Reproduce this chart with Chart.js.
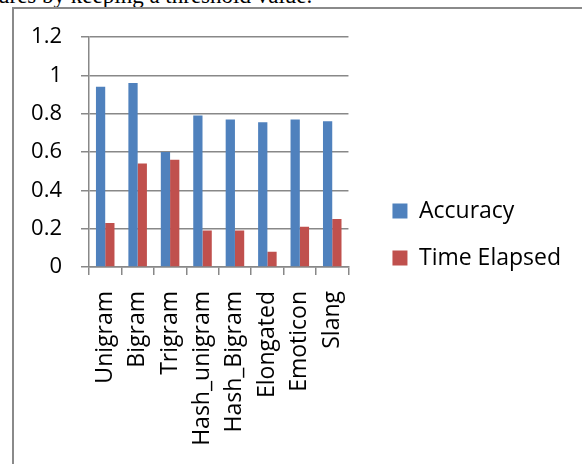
<!DOCTYPE html>
<html>
<head>
<meta charset="utf-8">
<script src="https://cdn.jsdelivr.net/npm/chart.js@4/dist/chart.umd.min.js"></script>
<style>
  html, body { margin: 0; padding: 0; background: #fff; width: 582px; height: 464px; overflow: hidden; }
  #frame { position: absolute; left: 12px; top: 7px; width: 620px; height: 520px; border: 2px solid #8a8a8a; box-sizing: border-box; }
  #caption { position: absolute; left: -2px; top: -16px; font-family: "Liberation Serif", serif; font-size: 23px; line-height: 23px; color: #000; white-space: nowrap; }
  #wrap { position: absolute; left: 0; top: 0; width: 582px; height: 464px; }
</style>
</head>
<body>
<div id="caption">ures by keeping a threshold value.</div>
<div id="frame"></div>
<div id="wrap"><canvas id="c" width="582" height="464"></canvas></div>
<script>
const categories = ['Unigram', 'Bigram', 'Trigram', 'Hash_unigram', 'Hash_Bigram', 'Elongated', 'Emoticon', 'Slang'];
const accuracy = [0.94, 0.96, 0.60, 0.79, 0.77, 0.755, 0.77, 0.76];
const timeElapsed = [0.23, 0.54, 0.56, 0.19, 0.19, 0.08, 0.21, 0.25];
const seriesNames = ['Accuracy', 'Time Elapsed'];
const yTickLabels = ['0', '0.2', '0.4', '0.6', '0.8', '1', '1.2'];

const FONT = '"Open Sans", sans-serif';
const GRID = '#888888';

new Chart(document.getElementById('c'), {
  type: 'bar',
  data: {
    labels: categories,
    datasets: [
      { label: seriesNames[0], data: accuracy, backgroundColor: '#4F81BD', borderWidth: 0 },
      { label: seriesNames[1], data: timeElapsed, backgroundColor: '#C0504D', borderWidth: 0 }
    ]
  },
  options: {
    responsive: false,
    animation: false,
    devicePixelRatio: 1,
    layout: { padding: { top: 5, bottom: 0, left: 0, right: 11 } },
    datasets: { bar: { categoryPercentage: 2 / 3.5, barPercentage: 1 } },
    plugins: {
      title: {
        display: true, text: '', fullSize: false, position: 'top',
        font: { size: 10, lineHeight: 1 }, padding: { top: 22, bottom: 0 }
      },
      tooltip: { enabled: false },
      legend: {
        position: 'right',
        align: 'center',
        maxWidth: 300,
        labels: {
          font: { family: FONT, size: 23 },
          color: '#000',
          boxWidth: 15,
          boxHeight: 15,
          padding: 24
        }
      }
    },
    scales: {
      x: {
        afterFit: s => { s.height = 197; },
        grid: { offset: true, drawOnChartArea: false, drawTicks: true, tickLength: 8, color: GRID, lineWidth: 1.5 },
        border: { color: GRID, width: 1.5 },
        ticks: {
          autoSkip: false, minRotation: 90, maxRotation: 90, padding: 16,
          font: { family: FONT, size: 23 }, color: '#000'
        }
      },
      y: {
        min: 0, max: 1.2,
        afterFit: s => { s.width = 89; },
        grid: { color: GRID, lineWidth: 1.5, tickLength: 8, drawTicks: true },
        border: { color: GRID, width: 1.5 },
        ticks: {
          stepSize: 0.2, padding: 19,
          font: { family: FONT, size: 22 }, color: '#000',
          callback: (v, i) => yTickLabels[i]
        }
      },
      y2: {
        position: 'right',
        display: true,
        afterFit: s => { s.width = 20; },
        grid: { display: false, drawTicks: false },
        border: { display: false },
        ticks: { display: false }
      }
    }
  }
});
</script>
</body>
</html>
